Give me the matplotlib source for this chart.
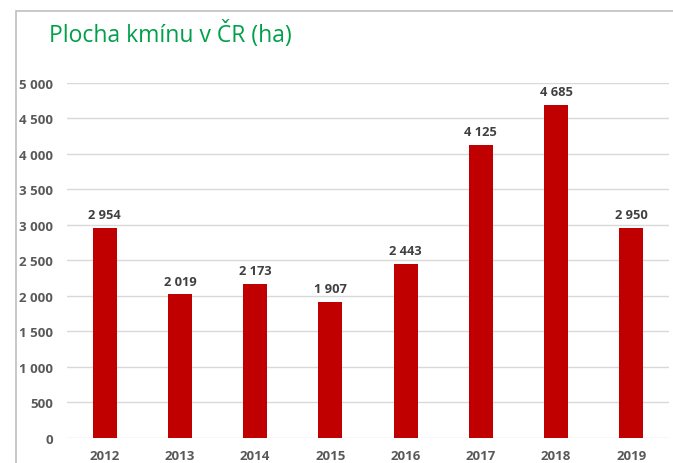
import matplotlib.pyplot as plt
from matplotlib.patches import Rectangle

years = ["2012", "2013", "2014", "2015", "2016", "2017", "2018", "2019"]
area_ha = [2954, 2019, 2173, 1907, 2443, 4125, 4685, 2950]
y_ticks = [0, 500, 1000, 1500, 2000, 2500, 3000, 3500, 4000, 4500, 5000]


def fmt(v):
    # thousands separated by a space, Czech style
    return f"{v:,}".replace(",", " ")


W, H = 673, 464
fig = plt.figure(figsize=(W / 100, H / 100), dpi=100)

# chart border (cropped at right and bottom like the reference)
fig.patches.append(Rectangle((16 / W, -0.1), 1.2, 1.1 - 12 / H, transform=fig.transFigure,
                             fill=False, edgecolor="#bfbfbf", linewidth=1.2))

ax = fig.add_axes([67 / W, (H - 438.7) / H, (669 - 67) / W, (438.7 - 84) / H])

x = range(len(years))
ax.bar(x, area_ha, width=0.32, color="#c00000", zorder=3)
for i, v in enumerate(area_ha):
    ax.annotate(fmt(v), (i, v), xytext=(0, 5), textcoords="offset points",
                ha="center", va="bottom", fontsize=9.3, fontweight="bold",
                color="#404040", family="Open Sans")

ax.set_xlim(-0.5, len(years) - 0.5)
ax.set_ylim(0, 5000)
ax.set_yticks(y_ticks)
ax.set_yticklabels([fmt(t) for t in y_ticks])
ax.set_xticks(list(x))
ax.set_xticklabels(years)
ax.grid(axis="y", color="#d9d9d9", linewidth=1, zorder=0)
ax.tick_params(length=0, labelsize=9.5, labelcolor="#595959")
ax.tick_params(axis="y", pad=10)
ax.tick_params(axis="x", pad=8)
for lbl in ax.get_xticklabels() + ax.get_yticklabels():
    lbl.set_fontweight("bold")
    lbl.set_family("Open Sans")
for s in ax.spines.values():
    s.set_visible(False)

fig.text(49 / W, 1 - 34 / H, "Plocha kmínu v ČR (ha)", fontsize=16.5, color="#00a04a",
         family="Open Sans", va="center", ha="left")

fig.savefig("out.png", dpi=100)
